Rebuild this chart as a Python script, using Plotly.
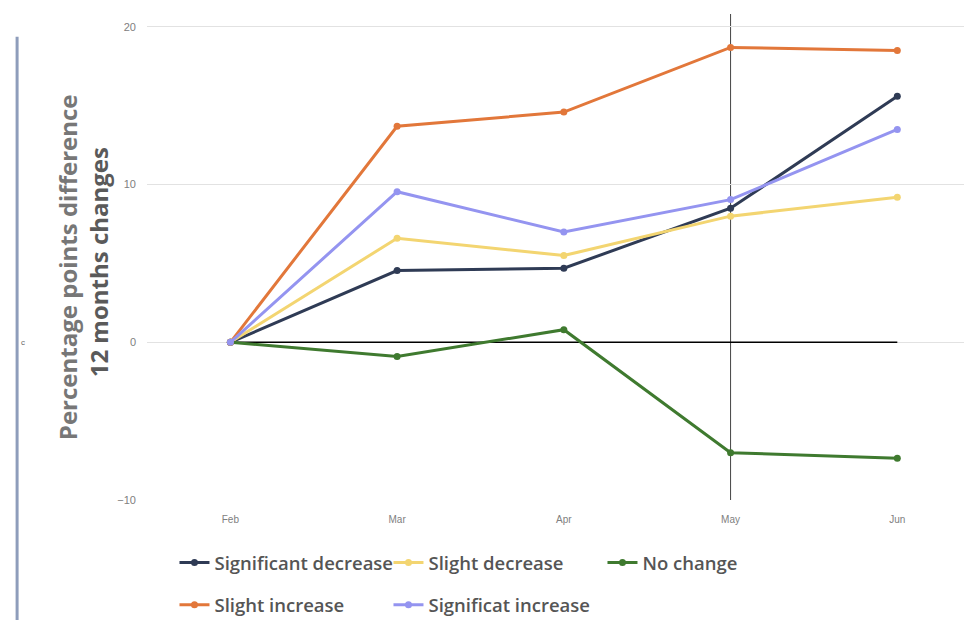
import plotly.graph_objects as go

# Months on the category axis
months = ["Feb", "Mar", "Apr", "May", "Jun"]

# Percentage-point change since February, one list per response group
significant_decrease = [0, 4.55, 4.7, 8.5, 15.6]
slight_decrease = [0, 6.6, 5.5, 8.0, 9.2]
no_change = [0, -0.9, 0.8, -7.0, -7.35]
slight_increase = [0, 13.7, 14.6, 18.7, 18.5]
significat_increase = [0, 9.55, 7.0, 9.05, 13.5]

y_ticks = [-10, 0, 10, 20]

series = [
    ("Significant decrease", significant_decrease, "#2f3b55", "legend"),
    ("Slight decrease", slight_decrease, "#f3d571", "legend"),
    ("No change", no_change, "#3f7a2f", "legend"),
    ("Slight increase", slight_increase, "#e2773a", "legend2"),
    ("Significat increase", significat_increase, "#9494f0", "legend2"),
]

fig = go.Figure()
for name, values, color, leg in series:
    fig.add_trace(go.Scatter(
        x=months, y=values, name=name, mode="lines+markers",
        line=dict(color=color, width=3),
        marker=dict(color=color, size=7),
        legend=leg,
    ))

# Horizontal reference at zero, spanning the first to last month
fig.add_shape(type="line", xref="x", yref="y",
              x0=months[0], x1=months[-1], y0=0, y1=0,
              line=dict(color="#000000", width=1.5), layer="between")
# Vertical marker at May
fig.add_shape(type="line", xref="x", yref="paper",
              x0="May", x1="May", y0=0, y1=1,
              line=dict(color="#444444", width=1), layer="between")
# Decorative rule on the far left
fig.add_shape(type="line", xref="paper", yref="paper",
              x0=-0.159, x1=-0.159, y0=0.953, y1=-0.247,
              line=dict(color="#8e9dbb", width=3))

# Axis title, two lines
fig.add_annotation(text="<b>Percentage points difference</b>", xref="paper", yref="paper",
                   x=-0.098, y=0.479, xanchor="center", yanchor="middle",
                   textangle=-90, showarrow=False,
                   font=dict(family="Open Sans", size=24, color="#777777"))
fig.add_annotation(text="<b>12 months changes</b>", xref="paper", yref="paper",
                   x=-0.0600, y=0.489, xanchor="center", yanchor="middle",
                   textangle=-90, showarrow=False,
                   font=dict(family="Open Sans", size=24, color="#5a5a5a"))
fig.add_annotation(text="c", xref="paper", yref="y", x=-0.157, y=0,
                   showarrow=False, font=dict(family="Liberation Sans", size=8, color="#666666"))

legend_font = dict(family="Open Sans", size=18.5, weight=600, color="#555555")

fig.update_layout(
    width=964, height=620,
    margin=dict(l=147, r=0, t=14, b=120),
    paper_bgcolor="white", plot_bgcolor="white",
    xaxis=dict(
        type="category", range=[-0.5, 4.4],
        showgrid=False, zeroline=False, showline=False,
        tickfont=dict(family="Liberation Sans", size=10, color="#808080"),
        ticklabelstandoff=12,
    ),
    yaxis=dict(
        range=[-10, 20.82], tickvals=y_ticks,
        showgrid=True, gridcolor="#e2e2e2", gridwidth=1,
        zeroline=False, showline=False,
        tickfont=dict(family="Liberation Sans", size=11, color="#808080"),
        ticklabelstandoff=10,
    ),
    legend=dict(
        orientation="h", xref="container", yref="container",
        x=0.181, y=0.092, xanchor="left", yanchor="middle",
        entrywidthmode="pixels", entrywidth=169,
        font=legend_font, bgcolor="rgba(0,0,0,0)",
    ),
    legend2=dict(
        orientation="h", xref="container", yref="container",
        x=0.181, y=0.024, xanchor="left", yanchor="middle",
        entrywidthmode="pixels", entrywidth=169,
        font=legend_font, bgcolor="rgba(0,0,0,0)",
    ),
    showlegend=True,
)

fig.write_html("out.html")
